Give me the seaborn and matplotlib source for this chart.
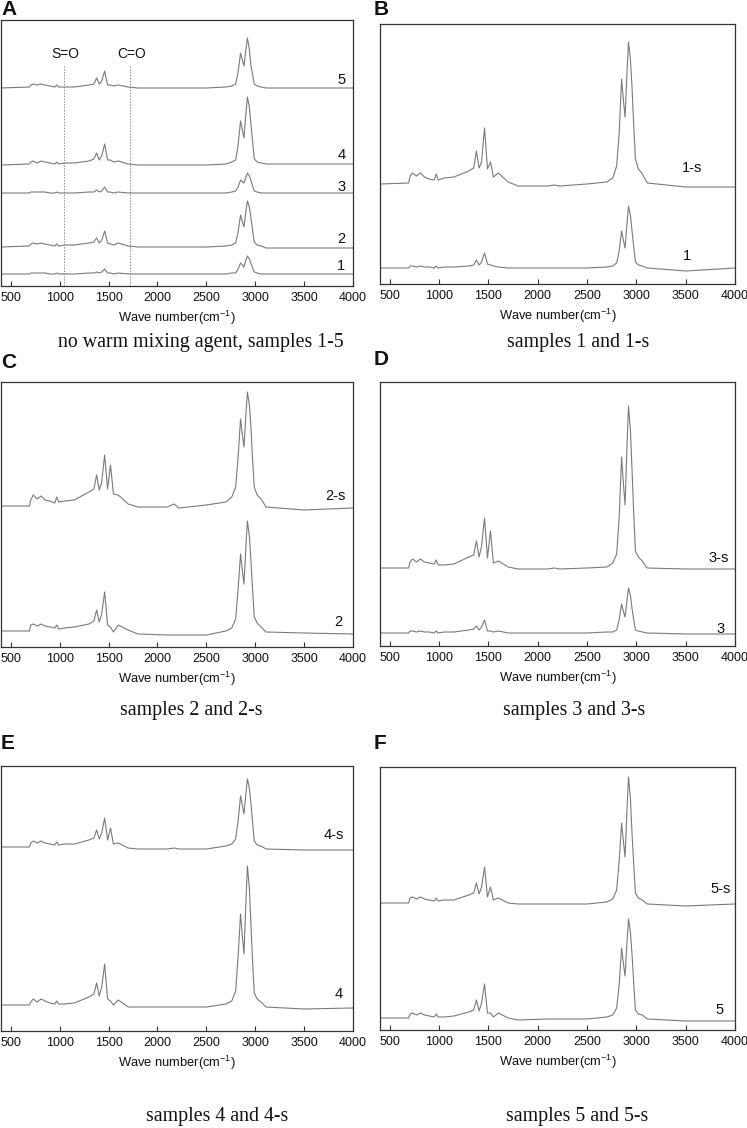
import matplotlib
matplotlib.use("Agg")
import matplotlib.pyplot as plt
import seaborn as sns

# shared wavenumber grid (cm-1)
wn = [400, 690, 705, 730, 770, 810, 850, 900, 950, 970,
      990, 1050, 1150, 1300, 1350, 1378, 1405, 1430, 1460, 1490,
      1520, 1550, 1600, 1700, 1800, 2100, 2170, 2220, 2500,
      2700, 2760, 2800, 2825, 2850, 2870, 2885, 2905, 2920, 2940,
      2955, 2970, 2990, 3020, 3060, 3110, 3500, 4000]

# intensities (offset traces, arbitrary units)
a5 = [198, 199, 201, 202, 201, 202, 201, 200, 199, 201, 199, 199, 199, 201, 202, 208, 202, 205, 215, 201,
      201, 200, 201, 199, 198, 198, 198, 198, 198,
      199, 200, 202, 214, 233, 225, 220, 237, 248, 237, 221, 213, 202, 200, 199, 198, 198, 198]
a4 = [121, 122, 124, 125, 123, 125, 124, 123, 122, 124, 122, 123, 123, 125, 127, 133, 126, 130, 142, 126,
      126, 124, 125, 122, 121, 121, 121, 121, 121,
      122, 124, 126, 141, 165, 155, 148, 173, 189, 179, 163, 148, 127, 124, 123, 122, 122, 122]
a3 = [93, 93, 94, 94, 94, 94, 94, 93, 93, 94, 93, 93, 93, 94, 94, 96, 94, 95, 99, 94,
      94, 93, 94, 93, 93, 93, 93, 93, 93,
      93, 94, 95, 99, 106, 104, 103, 109, 113, 110, 106, 101, 95, 94, 93, 93, 93, 93]
a2 = [39, 40, 42, 43, 42, 43, 42, 41, 40, 42, 40, 41, 41, 43, 44, 48, 43, 46, 55, 43,
      42, 41, 43, 40, 39, 39, 39, 39, 39,
      40, 41, 43, 54, 71, 64, 59, 75, 85, 79, 69, 58, 44, 41, 40, 38, 38, 38]
a1 = [12, 12, 13, 13, 13, 13, 13, 12, 12, 13, 12, 12, 12, 13, 13, 14, 13, 14, 17, 13,
      13, 12, 13, 12, 12, 12, 12, 12, 12,
      12, 13, 13, 17, 23, 21, 19, 26, 30, 27, 23, 19, 14, 13, 12, 12, 12, 12]

b1s = [100, 101, 108, 111, 108, 111, 107, 105, 104, 110, 104, 106, 107, 113, 116, 133, 116, 122, 156, 115,
       122, 107, 111, 102, 98, 98, 99, 98, 100,
       102, 106, 118, 150, 205, 182, 167, 212, 242, 224, 198, 165, 125, 115, 110, 101, 97, 97]
b1 = [16, 16, 18, 18, 17, 18, 17, 17, 16, 18, 16, 17, 17, 18, 19, 24, 19, 22, 31, 20,
      19, 18, 17, 16, 16, 16, 16, 16, 16,
      17, 18, 21, 33, 53, 43, 36, 61, 78, 68, 54, 40, 22, 19, 18, 16, 13, 16]

c2s = [141, 141, 147, 152, 148, 151, 147, 146, 144, 150, 145, 146, 147, 155, 158, 172, 157, 165, 192, 158,
       182, 153, 152, 143, 140, 140, 143, 139, 142,
       145, 150, 160, 190, 228, 211, 200, 233, 255, 242, 222, 193, 160, 152, 148, 140, 137, 139]
c2 = [16, 16, 22, 23, 21, 23, 21, 20, 19, 22, 18, 19, 20, 23, 26, 37, 25, 33, 55, 22,
      20, 15, 22, 17, 13, 12, 12, 12, 12,
      16, 19, 28, 58, 93, 75, 63, 101, 126, 111, 88, 62, 30, 24, 20, 15, 14, 13]

d3s = [78, 78, 84, 87, 84, 87, 84, 83, 82, 86, 81, 81, 82, 89, 91, 105, 89, 100, 128, 88,
       115, 83, 85, 79, 77, 77, 78, 77, 78,
       79, 83, 92, 128, 189, 160, 141, 201, 240, 215, 178, 140, 95, 89, 85, 78, 77, 77]
d3 = [13, 13, 15, 15, 14, 15, 14, 14, 13, 15, 13, 14, 14, 16, 17, 20, 16, 19, 26, 15,
      15, 14, 15, 13, 13, 13, 13, 13, 13,
      14, 14, 16, 26, 42, 34, 29, 46, 58, 50, 38, 28, 16, 15, 14, 13, 12, 12]

e4s = [184, 184, 188, 190, 188, 190, 188, 187, 186, 189, 186, 187, 187, 191, 193, 201, 192, 198, 213, 191,
       203, 187, 188, 183, 182, 182, 183, 182, 182,
       185, 187, 192, 210, 235, 225, 217, 238, 252, 243, 229, 212, 190, 186, 185, 182, 181, 181]
e4 = [26, 26, 29, 32, 29, 32, 30, 28, 27, 30, 27, 27, 28, 34, 37, 48, 35, 44, 67, 32,
      30, 26, 31, 24, 24, 24, 24, 24, 24,
      27, 30, 40, 75, 117, 93, 77, 130, 165, 143, 110, 75, 38, 32, 29, 24, 22, 23]

f5s = [127, 127, 132, 133, 131, 133, 131, 130, 129, 132, 129, 130, 130, 135, 137, 147, 136, 143, 163, 133,
       143, 130, 132, 127, 126, 126, 126, 126, 126,
       128, 131, 140, 168, 207, 187, 173, 221, 253, 231, 198, 171, 137, 132, 130, 126, 124, 126]
f5 = [12, 12, 16, 17, 15, 17, 15, 14, 13, 16, 13, 13, 14, 18, 20, 30, 19, 27, 46, 17,
      17, 13, 17, 12, 10, 11, 11, 11, 11,
      13, 15, 22, 45, 82, 65, 54, 88, 111, 97, 77, 52, 20, 16, 15, 11, 9, 9]

letters = ["A", "B", "C", "D", "E", "F"]
captions = ["no warm mixing agent, samples 1-5", "samples 1 and 1-s", "samples 2 and 2-s",
            "samples 3 and 3-s", "samples 4 and 4-s", "samples 5 and 5-s"]
panel_traces = [
    [(a5, "5"), (a4, "4"), (a3, "3"), (a2, "2"), (a1, "1")],
    [(b1s, "1-s"), (b1, "1")],
    [(c2s, "2-s"), (c2, "2")],
    [(d3s, "3-s"), (d3, "3")],
    [(e4s, "4-s"), (e4, "4")],
    [(f5s, "5-s"), (f5, "5")],
]
bond_x = [1045, 1720]
bond_labels = ["S=O", "C=O"]

# layout (pixels): axes boxes, label spots, letters, captions
W, H = 747, 1128
boxes = [(1, 20, 353, 286), (380, 24, 735, 284), (1, 382, 353, 647),
         (380, 382, 735, 646), (1, 766, 353, 1031), (380, 767, 735, 1030)]
label_pos = [
    [(3880, 206), (3880, 131), (3880, 99), (3880, 47), (3880, 20)],
    [(3560, 116), (3510, 28)],
    [(3818, 151), (3853, 25)],
    [(3837, 88), (3855, 17)],
    [(3802, 196), (3850, 37)],
    [(3851, 141), (3845, 20)],
]
letter_pos = [(1, 0), (374, 0), (1, 353), (374, 350), (1, 734), (374, 734)]
caption_pos = [(201, 342), (578, 342), (191, 710), (574, 710), (217, 1117), (577, 1117)]

sns.set_style("white")
plt.rcParams["font.family"] = ["Liberation Sans", "DejaVu Sans"]
plt.rcParams["mathtext.fontset"] = "custom"
plt.rcParams["mathtext.rm"] = "Liberation Sans"
plt.rcParams["mathtext.it"] = "Liberation Sans:italic"

fig = plt.figure(figsize=(W / 100, H / 100), dpi=100)
line_col = "#7a7a7a"

for i in range(6):
    l, t, r, b = boxes[i]
    ax = fig.add_axes([l / W, 1 - b / H, (r - l) / W, (b - t) / H])
    for (vals, name), (lx, ly) in zip(panel_traces[i], label_pos[i]):
        sns.lineplot(x=wn, y=vals, ax=ax, color=line_col, lw=0.8)
        ax.text(lx, ly, name, ha="center", va="center", fontsize=10.5, color="#111111")
    if i == 0:
        for bx, bl in zip(bond_x, bond_labels):
            ax.plot([bx, bx], [0, 221], ls=(0, (1.5, 1.5)), color="#8a8a8a", lw=0.7)
            ax.text(bx + 15, 232, bl, ha="center", va="center", fontsize=10, color="#111111")
    ax.set_xlim(400, 4000)
    ax.set_ylim(0, b - t)
    ax.set_xticks([500, 1000, 1500, 2000, 2500, 3000, 3500, 4000])
    ax.set_yticks([])
    ax.tick_params(axis="x", direction="in", length=3.5, width=0.8, labelsize=9, pad=4,
                   bottom=True, colors="#333333", labelcolor="#111111")
    for s in ax.spines.values():
        s.set_color("#333333")
        s.set_linewidth(0.9)
    ax.set_xlabel("Wave number(cm$^{-1}$)", fontsize=9.3, labelpad=4, color="#111111")
    ax.set_ylabel("")

    lx, ly = letter_pos[i]
    fig.text(lx / W, 1 - ly / H, letters[i], ha="left", va="top", fontsize=15,
             fontweight="bold", color="#111111")
    cx, cy = caption_pos[i]
    fig.text(cx / W, 1 - cy / H, captions[i], ha="center", va="center", fontsize=14.3,
             family="Liberation Serif", color="#111111")

fig.savefig("out.png", dpi=100)
